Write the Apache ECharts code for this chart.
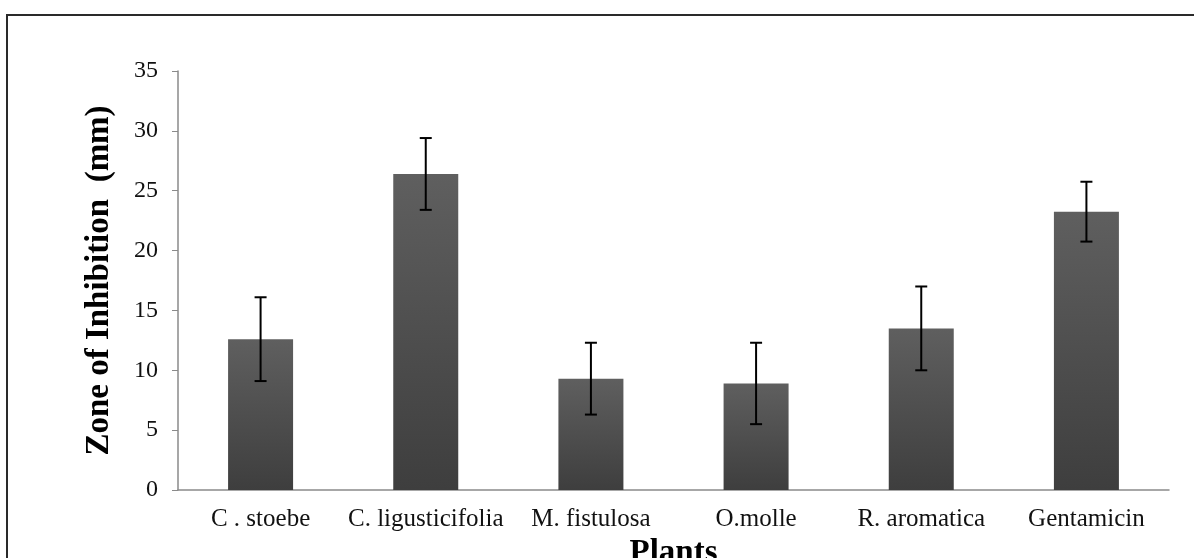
<!DOCTYPE html>
<html lang="en">
<head>
    <meta charset="UTF-8">
    <title>Zone of Inhibition</title>
    <script src="https://cdn.jsdelivr.net/npm/echarts@6.0.0/dist/echarts.min.js"></script>
    <style>
        html, body { margin: 0; padding: 0; background: #fff; }
        #main { width: 1194px; height: 558px; }
    </style>
</head>
<body>
    <div id="main"></div>
    <script type="text/javascript">
        // data
        const plants = ['C . stoebe', 'C. ligusticifolia', 'M. fistulosa', 'O.molle', 'R. aromatica', 'Gentamicin'];
        const zoneMean = [12.6, 26.4, 9.3, 8.9, 13.5, 23.25];
        const zoneErr = [3.5, 3.0, 3.0, 3.4, 3.5, 2.5];
        const yTicks = [0, 5, 10, 15, 20, 25, 30, 35];

        const errData = zoneMean.map((v, i) => [i, v - zoneErr[i], v + zoneErr[i]]);

        var chart = echarts.init(document.getElementById('main'));
        var serif = '"Liberation Serif", "DejaVu Serif", serif';

        var option = {
            animation: false,
            backgroundColor: '#fff',
            graphic: [{
                type: 'rect',
                shape: { x: 7, y: 15, width: 1300, height: 700 },
                style: { fill: 'none', stroke: '#2a2a2a', lineWidth: 2 },
                silent: true
            }],
            grid: { left: 178, right: 25, top: 71, bottom: 68, containLabel: false, outerBoundsMode: 'none' },
            xAxis: {
                type: 'category',
                data: plants,
                name: 'Plants',
                nameLocation: 'middle',
                nameGap: 40,
                nameTextStyle: { fontFamily: serif, fontSize: 33, fontWeight: 'bold', color: '#000' },
                axisLine: { lineStyle: { color: '#8a8a8a', width: 1.5 } },
                axisTick: { alignWithLabel: false, length: 6, lineStyle: { color: '#8a8a8a' } },
                axisLabel: { fontFamily: serif, fontSize: 25, color: '#111', margin: 17, interval: 0 }
            },
            yAxis: {
                type: 'value',
                min: yTicks[0],
                max: yTicks[yTicks.length - 1],
                interval: yTicks[1] - yTicks[0],
                name: 'Zone of Inhibition  (mm)',
                nameLocation: 'middle',
                nameGap: 62,
                nameTextStyle: { fontFamily: serif, fontSize: 33, fontWeight: 'bold', color: '#000' },
                axisLine: { show: true, lineStyle: { color: '#8a8a8a', width: 1.5 } },
                axisTick: { show: true, length: 6, lineStyle: { color: '#8a8a8a' } },
                axisLabel: { fontFamily: serif, fontSize: 24, color: '#111', margin: 20 },
                splitLine: { show: false }
            },
            series: [
                {
                    type: 'bar',
                    data: zoneMean,
                    barWidth: 65,
                    itemStyle: {
                        color: new echarts.graphic.LinearGradient(0, 0, 0, 1, [
                            { offset: 0, color: '#5f5f5f' },
                            { offset: 1, color: '#3e3e3e' }
                        ])
                    }
                },
                {
                    type: 'custom',
                    data: errData,
                    z: 10,
                    renderItem: function (params, api) {
                        var x = api.value(0);
                        var lo = api.coord([x, api.value(1)]);
                        var hi = api.coord([x, api.value(2)]);
                        var half = 6;
                        var st = { stroke: '#000', lineWidth: 2 };
                        return {
                            type: 'group',
                            children: [
                                { type: 'line', shape: { x1: hi[0], y1: hi[1], x2: lo[0], y2: lo[1] }, style: st },
                                { type: 'line', shape: { x1: hi[0] - half, y1: hi[1], x2: hi[0] + half, y2: hi[1] }, style: st },
                                { type: 'line', shape: { x1: lo[0] - half, y1: lo[1], x2: lo[0] + half, y2: lo[1] }, style: st }
                            ]
                        };
                    }
                }
            ]
        };
        chart.setOption(option);
    </script>
</body>
</html>
